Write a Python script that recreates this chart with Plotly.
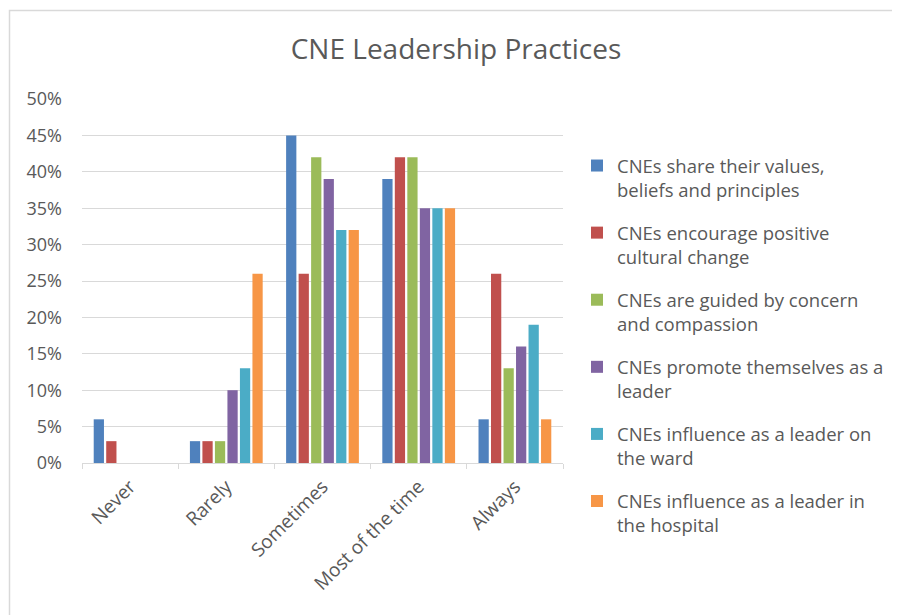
import plotly.graph_objects as go

categories = ["Never", "Rarely", "Sometimes", "Most of the time", "Always"]
series_names = [
    "CNEs share their values,<br>beliefs and principles",
    "CNEs encourage positive<br>cultural change",
    "CNEs are guided by concern<br>and compassion",
    "CNEs promote themselves as a<br>leader",
    "CNEs influence as a leader on<br>the ward",
    "CNEs influence as a leader in<br>the hospital",
]
share_values = [6, 3, 45, 39, 6]
encourage_change = [3, 3, 26, 42, 26]
guided_concern = [0, 3, 42, 42, 13]
promote_themselves = [0, 10, 39, 35, 16]
influence_ward = [0, 13, 32, 35, 19]
influence_hospital = [0, 26, 32, 35, 6]
series_values = [share_values, encourage_change, guided_concern,
                 promote_themselves, influence_ward, influence_hospital]
colors = ["#4F81BD", "#C0504D", "#9BBB59", "#8064A2", "#4BACC6", "#F79646"]
y_ticks = [0, 5, 10, 15, 20, 25, 30, 35, 40, 45, 50]

FONT = "Open Sans"
TXT = "#595959"

fig = go.Figure()
for i, (name, vals) in enumerate(zip(series_names, series_values)):
    fig.add_trace(go.Bar(
        x=categories, y=vals, name=name,
        marker=dict(color=colors[i], line=dict(width=0)),
        legendgroup=f"g{i}",
    ))

# page body has an 8px margin; work in screen coords and shift
OFF = 8
W, H = 900 - OFF, 615 - OFF
L, R, T, B = 82 - OFF, 900 - 563, 99 - OFF, 615 - 463
pw = W - L - R
ph = H - T - B

def px_x(p):  # screen px -> paper
    return (p - OFF - L) / pw

def px_y(p):
    return (H - B - (p - OFF)) / ph

fig.update_layout(
    width=W, height=H,
    margin=dict(l=L, r=R, t=T, b=B, pad=0, autoexpand=False),
    paper_bgcolor="white", plot_bgcolor="white",
    barmode="group", bargap=0.22, bargroupgap=0.18,
    font=dict(family=FONT, color=TXT, size=18),
    title=dict(text="CNE Leadership Practices", x=px_x(456), xref="paper", xanchor="center",
               y=1 - (49 - OFF) / H, yanchor="middle", font=dict(size=28, color=TXT, family=FONT)),
    showlegend=True,
    legend=dict(x=px_x(577), xanchor="left", y=px_y(147), yanchor="top",
                yref="paper", xref="paper", maxheight=560,
                font=dict(size=18.5, color=TXT, family=FONT),
                valign="top", tracegroupgap=16, itemwidth=30,
                bgcolor="rgba(0,0,0,0)"),
    xaxis=dict(type="category", showgrid=False, showline=True, linecolor="#D9D9D9", linewidth=1,
               ticks="outside", tickson="boundaries", ticklen=5, tickcolor="#D9D9D9",
               tickangle=-45, ticklabelstandoff=4, tickfont=dict(size=19, color=TXT)),
    yaxis=dict(range=[0, 50], tickvals=y_ticks, ticktext=[f"{v}%" for v in y_ticks],
               showgrid=True, gridcolor="#D9D9D9", gridwidth=1, zeroline=False,
               showline=False, ticks="", ticklabelstandoff=19,
               tickfont=dict(size=18, color=TXT)),
    shapes=[dict(type="rect", xref="paper", yref="paper",
                 x0=px_x(9.5), x1=px_x(920), y0=px_y(10.5), y1=px_y(640),
                 line=dict(color="#D9D9D9", width=1.5), fillcolor="rgba(0,0,0,0)", layer="below")],
)

fig.write_html("out.html")
